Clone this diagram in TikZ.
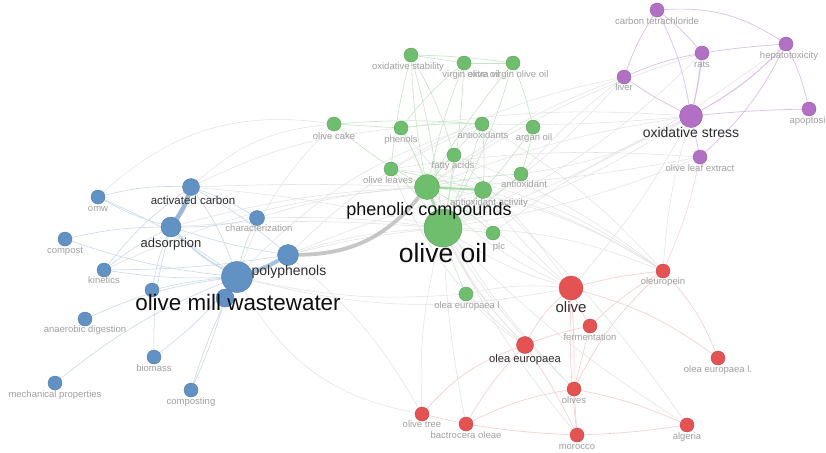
\documentclass[tikz,border=0pt]{standalone}
\usepackage{fontspec}
\setmainfont{Liberation Sans}
\definecolor{cblue}{RGB}{98,146,196}
\definecolor{cgreen}{RGB}{110,190,110}
\definecolor{cred}{RGB}{228,82,82}
\definecolor{cpurple}{RGB}{178,112,196}
\definecolor{lbl}{RGB}{160,160,160}
\definecolor{lbldark}{RGB}{45,45,45}
\definecolor{lblblack}{RGB}{15,15,15}
\pgfdeclarelayer{bg}
\pgfdeclarelayer{edges}
\pgfsetlayers{bg,edges,main}
\tikzset{
  nb/.style={circle,inner sep=0,fill=cblue,draw=cblue!85!black,line width=0.4pt,minimum size=#1},
  ng/.style={circle,inner sep=0,fill=cgreen,draw=cgreen!85!black,line width=0.4pt,minimum size=#1},
  nr/.style={circle,inner sep=0,fill=cred,draw=cred!85!black,line width=0.4pt,minimum size=#1},
  np/.style={circle,inner sep=0,fill=cpurple,draw=cpurple!85!black,line width=0.4pt,minimum size=#1},
  sl/.style={inner sep=0,text=lbl,font=\fontsize{9.5}{11}\selectfont,text height=7pt,text depth=2pt},
  ml/.style={inner sep=0,text=lbldark,anchor=base,font=\fontsize{#1}{#1}\selectfont},
  bl/.style={inner sep=0,text=lblblack,anchor=base,font=\fontsize{#1}{#1}\selectfont},
  eg/.style={draw=gray!22,line width=0.55pt},
  eb/.style={draw=cblue!35,line width=0.6pt},
  egr/.style={draw=cgreen!40,line width=0.6pt},
  er/.style={draw=cred!30,line width=0.6pt},
  ep/.style={draw=cpurple!45,line width=0.7pt},
}
\begin{document}
\begin{tikzpicture}[x=1pt,y=-1pt]
\begin{pgfonlayer}{bg}
\fill[white] (0,0) rectangle (826,452);
\end{pgfonlayer}
\useasboundingbox (0,0) rectangle (826,452);
% ---------- nodes ----------
% blue
\node[nb=14] (omw) at (98,197) {};
\node[nb=17] (actc) at (191,187) {};
\node[nb=20] (ads) at (171,227) {};
\node[nb=14] (compost) at (65,239) {};
\node[nb=15] (char) at (257,218) {};
\node[nb=14] (kin) at (104,270) {};
\node[nb=21] (poly) at (288,255) {};
\node[nb=14] (b1) at (152,290) {};
\node[nb=18] (b2) at (225,298) {};
\node[nb=31] (omww) at (237,277) {};
\node[nb=14] (anaer) at (85,319) {};
\node[nb=14] (biom) at (154,357) {};
\node[nb=14] (mech) at (55,383) {};
\node[nb=14] (compo) at (191,390) {};
% green
\node[ng=14] (oxstab) at (411,55) {};
\node[ng=14] (voo) at (464,63) {};
\node[ng=14] (evoo) at (513,63) {};
\node[ng=14] (ocake) at (334,124) {};
\node[ng=14] (phenols) at (401,128) {};
\node[ng=14] (antis) at (482,124) {};
\node[ng=14] (argan) at (533,127) {};
\node[ng=14] (fatty) at (454,155) {};
\node[ng=14] (oleaves) at (391,169) {};
\node[ng=14] (anti) at (521,174) {};
\node[ng=17] (antact) at (483,190) {};
\node[ng=25] (phc) at (427,187) {};
\node[ng=38] (oo) at (443,228) {};
\node[ng=14] (hplc) at (493,233) {};
\node[ng=14] (oelg) at (466,294) {};
% purple
\node[np=14] (ctc) at (657,10) {};
\node[np=14] (rats) at (702,53) {};
\node[np=14] (hep) at (786,44) {};
\node[np=14] (liver) at (624,77) {};
\node[np=23] (oxs) at (691,116) {};
\node[np=14] (apo) at (809,109) {};
\node[np=14] (ole) at (700,157) {};
% red
\node[nr=24] (olive) at (571,288) {};
\node[nr=14] (oleu) at (663,271) {};
\node[nr=14] (ferm) at (590,326) {};
\node[nr=17] (oleae) at (525,345) {};
\node[nr=14] (oelr) at (718,358) {};
\node[nr=14] (olives) at (574,389) {};
\node[nr=14] (otree) at (422,414) {};
\node[nr=14] (bact) at (466,424) {};
\node[nr=14] (moro) at (577,435) {};
\node[nr=14] (alg) at (687,425) {};

% ---------- edges ----------
\begin{pgfonlayer}{edges}
% gray inter-cluster
\draw[eg] (oxs) to[bend left=3] (antis);
\draw[eg] (oxs) to[bend left=8] (oo);
\draw[eg] (oxs) to[bend right=6] (phc);
\draw[eg] (oxs) to[bend left=10] (anti);
\draw[eg] (liver) to[bend right=8] (phc);
\draw[eg] (liver) to[bend left=8] (oo);
\draw[eg] (liver) to[bend right=5] (anti);
\draw[eg] (liver) to[bend right=10] (oleaves);
\draw[eg] (rats) to[bend left=10] (oo);
\draw[eg] (rats) to[bend right=8] (phc);
\draw[eg] (hep) to[bend left=8] (oo);
\draw[eg] (ole) to[bend left=6] (oo);
\draw[eg] (ole) to[bend right=6] (oleaves);
\draw[eg] (ole) to[bend left=4] (phc);
\draw[eg] (oleu) to[bend right=10] (oo);
\draw[eg] (oleu) to[bend right=12] (phc);
\draw[eg] (oleu) to[bend right=8] (antis);
\draw[eg] (oleu) to[bend right=14] (oleaves);
\draw[eg] (oleu) to[bend right=8] (antact);
\draw[eg] (oleu) to[bend left=6] (oxs);
\draw[eg] (olive) to[bend left=8] (oo);
\draw[eg] (olive) to[bend left=10] (phc);
\draw[eg] (olive) to[bend left=6] (antact);
\draw[eg] (olive) to[bend right=6] (fatty);
\draw[eg] (olive) to[bend right=6] (oxs);
\draw[eg] (olive) to[bend left=8] (phenols);
\draw[eg] (oleae) to[bend left=8] (oo);
\draw[eg] (oleae) to[bend left=12] (phc);
\draw[eg] (oleae) to[bend left=14] (oleaves);
\draw[eg] (olives) to[bend left=6] (oo);
\draw[eg] (olives) to[bend left=8] (phc);
\draw[eg] (alg) to[bend left=6] (oo);
\draw[eg] (alg) to[bend right=6] (antact);
\draw[eg] (otree) to[bend left=8] (oo);
\draw[eg] (otree) to[bend left=25] (omww);
\draw[eg] (otree) to[bend right=10] (poly);
\draw[eg] (bact) to[bend left=4] (oo);
\draw[eg] (moro) to[bend left=6] (oo);
\draw[eg] (oelg) to[bend left=8] (olive);
\draw[eg] (oelg) to[bend right=8] (oleae);
\draw[eg] (oelg) to[bend left=8] (omww);
\draw[eg] (omww) to[bend left=10] (oo);
\draw[eg] (omww) to[bend right=12] (olive);
\draw[eg] (omww) to[bend left=14] (antis);
\draw[eg] (omww) to[bend left=12] (ocake);
\draw[eg] (actc) to[bend left=2] (phc);
\draw[eg] (actc) to[bend left=4] (oo);
\draw[eg] (actc) to[bend left=18] (ocake);
\draw[eg] (actc) to[bend left=10] (phenols);
\draw[eg] (ads) to[bend left=6] (phc);
\draw[eg] (ads) to[bend left=4] (oo);
\draw[eg] (char) to[bend left=4] (oo);
\draw[eg] (char) to[bend left=6] (phc);
\draw[eg] (omw) to[bend left=25] (ocake);
\draw[eg] (poly) to[bend left=4] (oo);
\draw[eg] (poly) to[bend left=10] (antis);
\draw[eg] (poly) to[bend left=4] (antact);
\draw[eg] (kin) to[bend left=10] (phc);
\draw[eg] (hplc) to[bend left=6] (oxs);
\draw[eg] (fatty) to[bend left=8] (oleu);
\draw[eg] (phenols) to[bend left=6] (oxs);
% thick gray
\draw[draw=gray!45,line width=3.8pt] (poly) to[bend right=25] (phc);
% blue
\draw[eb] (omw) to[bend left=6] (omww);
\draw[eb] (omw) to[bend left=8] (actc);
\draw[eb] (omw) to[bend right=6] (ads);
\draw[eb] (compost) to[bend right=6] (omww);
\draw[eb] (compost) to[bend left=6] (ads);
\draw[eb] (kin) to[bend left=5] (ads);
\draw[eb] (kin) to[bend right=5] (omww);
\draw[eb] (kin) to[bend left=8] (actc);
\draw[eb] (kin) to[bend right=4] (poly);
\draw[eb] (anaer) to[bend left=8] (omww);
\draw[eb] (biom) to[bend right=6] (omww);
\draw[eb] (biom) to[bend left=8] (ads);
\draw[eb] (mech) to[bend left=8] (omww);
\draw[eb] (compo) to[bend left=4] (omww);
\draw[eb] (compo) to[bend right=4] (b2);
\draw[eb] (char) to[bend right=6] (omww);
\draw[eb] (char) to[bend right=6] (actc);
\draw[eb] (char) to[bend left=6] (ads);
\draw[eb] (ads) to[bend right=4] (poly);
\draw[eb] (actc) to[bend left=6] (poly);
\draw[eb] (actc) to[bend left=8] (omww);
\draw[eb] (b1) to[bend left=4] (omww);
\draw[eb] (b1) to[bend left=6] (ads);
\draw[eb,line width=1.6pt] (omww) to[bend left=8] (ads);
\draw[eb,line width=2.2pt] (omww) to[bend left=4] (b2);
\draw[draw=cblue!65,line width=4.5pt] (actc) to[bend left=8] (ads);
\draw[draw=cblue!55,line width=4pt] (omww) to[bend right=6] (poly);
% green
\draw[egr] (oxstab) -- (voo);
\draw[egr] (voo) -- (evoo);
\draw[egr] (oxstab) to[bend left=3] (evoo);
\draw[egr] (oxstab) to[bend right=4] (phc);
\draw[egr] (oxstab) to[bend left=4] (oo);
\draw[egr] (oxstab) to[bend left=6] (fatty);
\draw[egr] (oxstab) to[bend right=4] (oleaves);
\draw[egr] (voo) to[bend left=4] (oo);
\draw[egr] (voo) to[bend right=4] (phc);
\draw[egr] (voo) to[bend right=6] (phenols);
\draw[egr] (evoo) to[bend left=6] (oo);
\draw[egr] (evoo) to[bend left=4] (argan);
\draw[egr] (evoo) to[bend right=4] (phc);
\draw[egr] (ocake) -- (phenols);
\draw[egr] (ocake) to[bend left=4] (antis);
\draw[egr] (ocake) to[bend right=6] (phc);
\draw[egr] (phenols) to[bend left=4] (phc);
\draw[egr] (phenols) to[bend left=4] (oo);
\draw[egr] (phenols) to[bend left=4] (antis);
\draw[egr] (antis) to[bend left=4] (antact);
\draw[egr] (antis) to[bend right=4] (phc);
\draw[egr] (antis) to[bend left=4] (oo);
\draw[egr] (argan) to[bend left=4] (anti);
\draw[egr] (argan) to[bend left=6] (oo);
\draw[egr] (fatty) to[bend left=2] (oo);
\draw[egr] (fatty) to[bend right=4] (phc);
\draw[egr] (oleaves) -- (antact);
\draw[egr] (oleaves) to[bend left=4] (oo);
\draw[egr] (anti) to[bend left=6] (oo);
\draw[egr] (anti) to[bend right=4] (phc);
\draw[egr] (hplc) -- (oo);
\draw[egr] (hplc) to[bend right=6] (phc);
\draw[egr] (oelg) to[bend left=4] (oo);
\draw[egr] (antact) to[bend left=4] (oo);
\draw[draw=cgreen!60,line width=2pt] (phc) -- (antact);
\draw[draw=cgreen!55,line width=2.5pt] (phc) -- (oo);
% purple
\draw[ep] (ctc) to[bend left=8] (oxs);
\draw[ep] (ctc) to[bend left=18] (hep);
\draw[ep] (ctc) to[bend left=6] (rats);
\draw[ep] (ctc) to[bend right=6] (liver);
\draw[ep,line width=1.2pt] (rats) to[bend left=3] (oxs);
\draw[ep] (rats) to[bend left=2] (hep);
\draw[ep] (rats) to[bend right=6] (liver);
\draw[ep,line width=1pt] (hep) to[bend left=8] (oxs);
\draw[ep] (hep) to[bend left=6] (apo);
\draw[ep] (oxs) to[bend left=2] (apo);
\draw[ep] (liver) to[bend right=4] (oxs);
\draw[ep] (oxs) -- (ole);
\draw[ep] (ole) to[bend right=10] (hep);
\draw[draw=cred!25,line width=0.6pt] (oleu) to[bend right=6] (ole);
% red
\draw[er] (olive) to[bend left=4] (oleu);
\draw[er] (olive) to[bend right=10] (oleae);
\draw[er] (olive) to[bend left=2] (olives);
\draw[er] (olive) to[bend left=10] (oelr);
\draw[er] (olive) to[bend right=4] (ferm);
\draw[er] (oleu) to[bend right=6] (ferm);
\draw[er] (oleu) to[bend left=10] (oelr);
\draw[er] (oleu) to[bend right=10] (olives);
\draw[er] (oleae) to[bend left=4] (ferm);
\draw[er] (oleae) to[bend right=14] (otree);
\draw[er] (oleae) to[bend right=6] (bact);
\draw[er] (oleae) to[bend left=4] (moro);
\draw[er] (olives) -- (ferm);
\draw[er] (olives) -- (moro);
\draw[er] (olives) to[bend left=6] (alg);
\draw[er] (olives) to[bend right=8] (bact);
\draw[er] (bact) -- (otree);
\draw[er] (bact) to[bend right=3] (moro);
\draw[er] (moro) to[bend right=3] (alg);
\draw[er] (olive) to[bend right=4] (moro);
\end{pgfonlayer}

% ---------- labels ----------
% small gray labels
\node[sl] (omwL) at (98,209) {omw};
\node[sl] (compostL) at (65,251) {compost};
\node[sl] (charL) at (259,229) {characterization};
\node[sl] (kinL) at (104,281) {kinetics};
\node[sl] (anaerL) at (85,330) {anaerobic digestion};
\node[sl] (biomL) at (154,369) {biomass};
\node[sl] (mechL) at (55,395) {mechanical properties};
\node[sl] (compoL) at (191,402) {composting};
\node[sl] (oxstabL) at (408,67) {oxidative stability};
\node[sl] (vooL) at (471,75) {virgin olive oil};
\node[sl] (evooL) at (508,75) {extra virgin olive oil};
\node[sl] (ocakeL) at (334,137) {olive cake};
\node[sl] (phenolsL) at (401,140) {phenols};
\node[sl] (antisL) at (483,136) {antioxidants};
\node[sl] (arganL) at (534,138) {argan oil};
\node[sl] (fattyL) at (453,166) {fatty acids};
\node[sl] (oleavesL) at (388,181) {olive leaves};
\node[sl] (antiL) at (524,185) {antioxidant};
\node[sl] (antactL) at (489,203) {antioxidant activity};
\node[sl] (hplcL) at (499,247) {plc};
\node[sl] (oelgL) at (467,306) {olea europaea l};
\node[sl] (ctcL) at (657,22) {carbon tetrachloride};
\node[sl] (ratsL) at (702,65) {rats};
\node[sl] (hepL) at (789,56) {hepatotoxicity};
\node[sl] (liverL) at (624,88) {liver};
\node[sl] (apoL) at (810,121) {apoptosis};
\node[sl] (oleL) at (700,169) {olive leaf extract};
\node[sl] (oleuL) at (663,282) {oleuropein};
\node[sl] (fermL) at (590,338) {fermentation};
\node[sl] (oelrL) at (718,370) {olea europaea l.};
\node[sl] (olivesL) at (574,401) {olives};
\node[sl] (otreeL) at (422,425) {olive tree};
\node[sl] (bactL) at (466,436) {bactrocera oleae};
\node[sl] (moroL) at (577,447) {morocco};
\node[sl] (algL) at (687,437) {algeria};
% medium dark labels
\node[ml=11.5] (actcL) at (193,204) {activated carbon};
\node[ml=13] (adsL) at (171,247) {adsorption};
\node[ml=14] (polyL) at (289,275) {polyphenols};
\node[ml=11.2] (oleaeL) at (525,362) {olea europaea};
\node[ml=15] (oliveL) at (571,312) {olive};
\node[ml=14] (oxsL) at (691,137) {oxidative stress};
% big labels
\node[bl=18] (phcL) at (429,215) {phenolic compounds};
\node[bl=22.4] (omwwL) at (238,310) {olive mill wastewater};
\node[bl=26.5] (ooL) at (443,262) {olive oil};
\end{tikzpicture}
\end{document}
